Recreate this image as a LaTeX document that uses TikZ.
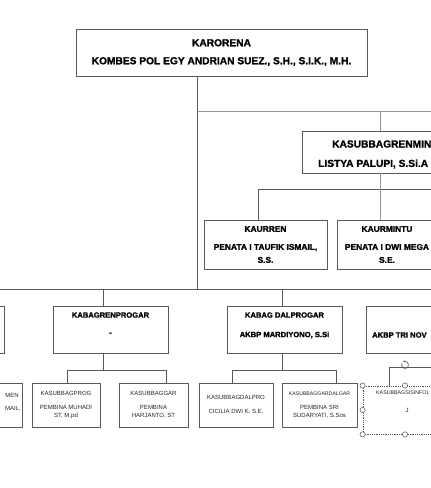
\documentclass[tikz,border=0pt]{standalone}
\usepackage{fontspec}
\setmainfont{Liberation Sans}[BoldFeatures={FakeBold=1.4}]
\usepackage{xcolor}
\usepackage{tikz}
\usetikzlibrary{arrows.meta}

\begin{document}
\begin{tikzpicture}[
    x=1pt, y=-1pt,
    box/.style={draw=black!65,line width=0.8pt,inner sep=0pt,align=center},
    ln/.style={black!65,line width=0.8pt},
    lt/.style={black!42,line width=0.9pt},
    tx/.style={inner sep=0pt},
    fa/.style={font=\fontsize{10.2}{18}\selectfont\bfseries},
    fb/.style={font=\fontsize{8.4}{13}\selectfont\bfseries},
    fc/.style={font=\fontsize{7.6}{20}\selectfont\bfseries},
    fd/.style={font=\fontsize{6}{8}\selectfont,text=black!85},
    hd/.style={draw=black!60,fill=white,line width=0.6pt},
  ]
  \useasboundingbox (0,0) rectangle (431,488);
  \fill[white] (0,0) rectangle (431,488);
  \clip (0,0) rectangle (431,488);

  % -- head of the unit --
  \node[box,fa,minimum width=291pt,minimum height=47pt] (karo) at (221.5,52.5)
       {KARORENA\\KOMBES POL EGY ANDRIAN SUEZ., S.H., S.I.K., M.H.};

  % -- staff branch on the right --
  \node[box,minimum width=156pt,minimum height=42pt] (renmin) at (380,152) {};
  \node[tx,fa,anchor=west] (renminA) at (332,144) {KASUBBAGRENMIN};
  \node[tx,fa,anchor=west] (renminB) at (318,164) {LISTYA PALUPI, S.Si.A};
  \node[box,fb,minimum width=123pt,minimum height=49pt] (kaurren) at (265.5,244.5)
       {KAURREN\\[5pt]PENATA I TAUFIK ISMAIL,\\S.S.};
  \node[box,fb,minimum width=100pt,minimum height=49pt] (kaurmin) at (387,244.5)
       {KAURMINTU\\[5pt]PENATA I DWI MEGA\\S.E.};

  % -- upper connectors --
  \coordinate (bus)  at (197,289);
  \coordinate (tap)  at (197,111);
  \coordinate (tapE) at (440,111);
  \coordinate (sub)  at (258,189);
  \coordinate (subE) at (440,189);
  \draw[ln] (karo.south -| bus) -- (bus);
  \draw[lt] (tap) -- (tapE);
  \draw[lt] (tap -| renmin.north) -- (renmin.north);
  \draw[lt] (renmin.south) -- (sub -| renmin.south);
  \draw[ln] (sub) -- (subE);
  \draw[ln] (sub) -- (sub |- kaurren.north);
  \draw[lt] (sub -| renmin.south) -- (kaurmin.north -| renmin.south);

  % -- the sections --
  \foreach \n/\x in {kbl/-53.5, kbr/110.5, kbd/284.5, kbs/423.5}
    \node[box,minimum width=115pt,minimum height=47pt] (\n) at (\x,329.5) {};
  \node[tx,fc] (kbrA) at (110.5,315) {KABAGRENPROGAR};
  \node[tx,fc] (kbrB) at (110.5,334) {-};
  \node[tx,fc] (kbdA) at (284.5,315) {KABAG DALPROGAR};
  \node[tx,fc] (kbdB) at (284.5,335) {AKBP MARDIYONO, S.Si};
  \node[tx,fc,anchor=west] (kbsB) at (372,335) {AKBP TRI NOV};

  \coordinate (busW) at (-10,289);
  \coordinate (busE) at (440,289);
  \coordinate (d1) at (103,289);
  \coordinate (d2) at (282,289);
  \draw[ln] (busW) -- (busE);
  \draw[ln] (d1) -- (d1 |- kbr.north);
  \draw[ln] (d2) -- (d2 |- kbd.north);

  % -- the subsections --
  \node[box,minimum width=69pt,minimum height=44pt] (sgl) at (-12.5,405) {};
  \node[tx,fd,anchor=east] (sglA) at (19,395) {MEN};
  \node[tx,fd,anchor=east] (sglB) at (21,409) {MAIL,};
  \node[box,fd,minimum width=68pt,minimum height=44pt] (sgprog) at (66,405)
       {KASUBBAGPROG\\[6pt]PEMBINA MUHADI\\ST, M.pd};
  \node[box,fd,minimum width=69pt,minimum height=44pt] (sggar) at (153.5,405)
       {KASUBBAGGAR\\[6pt]PEMBINA\\HARJANTO, ST};
  \node[box,fd,minimum width=74pt,minimum height=44pt] (sgdal) at (236,405)
       {KASUBBAGDALPRO\\[6pt]CICILIA DWI K, S.E.};
  \node[box,fd,minimum width=75pt,minimum height=44pt] (sggdg) at (319.5,405)
       {{\fontsize{5.2}{8}\selectfont KASUBBAGGARDALGAR}\\[6pt]PEMBINA SRI\\SUDARYATI, S.Sos};
  \node[box,densely dotted,minimum width=84pt,minimum height=48pt] (sgsis) at (405,410) {};
  \node[tx,fd,font=\fontsize{5.3}{8}\selectfont,anchor=west] (sgsisA) at (376,393) {KASUBBAGSISINFOL};
  \node[tx,fd] (sgsisB) at (407,410) {J};

  \coordinate (g1)  at (67,370);
  \coordinate (g1E) at (166,370);
  \coordinate (g2)  at (232,370);
  \coordinate (g2E) at (336,370);
  \coordinate (g3)  at (389,367);
  \coordinate (g3E) at (445,367);
  \draw[ln] (d1 |- kbr.south) -- (d1 |- g1);
  \draw[ln] (g1) -- (g1E);
  \draw[ln] (g1) -- (g1 |- sgprog.north);
  \draw[ln] (g1E) -- (g1E |- sggar.north);
  \draw[ln] (d2 |- kbd.south) -- (d2 |- g2);
  \draw[ln] (g2) -- (g2E);
  \draw[ln] (g2) -- (g2 |- sgdal.north);
  \draw[ln] (g2E) -- (g2E |- sggdg.north);
  \draw[ln] (kbs.south -| g3E) -- (g3E);
  \draw[ln] (g3) -- (g3E);
  \draw[ln] (g3) -- (g3 |- sgsis.north);

  % -- selection handles --
  \foreach \a in {north west,north,west,south west,south}
    \draw[hd] (sgsis.\a) circle (2.6pt);
  \coordinate (rot) at (405,365);
  \draw[black!60,line width=0.7pt,-{Stealth[length=2pt,width=2.5pt]}]
       ([shift={(150:3.5pt)}]rot) arc[start angle=150,end angle=480,radius=3.5pt];
\end{tikzpicture}
\end{document}
